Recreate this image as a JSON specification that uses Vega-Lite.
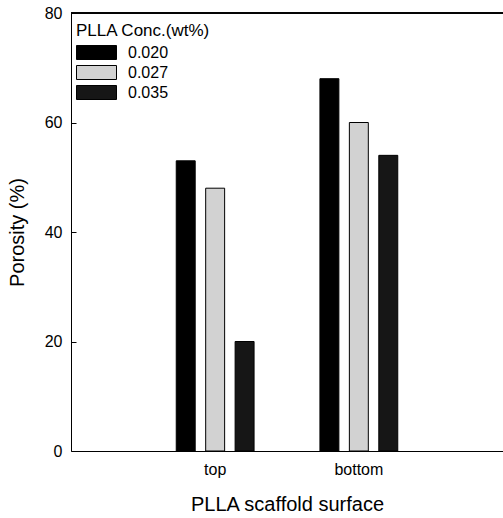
{
  "$schema": "https://vega.github.io/schema/vega-lite/v6.json",
  "width": 432,
  "height": 438,
  "autosize": {"type": "none"},
  "padding": {"left": 71, "top": 13, "right": 0, "bottom": 67},
  "background": "white",
  "config": {"view": {"stroke": null}, "font": "Liberation Sans"},
  "data": {
    "values": [
      {"surface": "top", "conc": "0.020", "porosity": 53},
      {"surface": "top", "conc": "0.027", "porosity": 48},
      {"surface": "top", "conc": "0.035", "porosity": 20},
      {"surface": "bottom", "conc": "0.020", "porosity": 68},
      {"surface": "bottom", "conc": "0.027", "porosity": 60},
      {"surface": "bottom", "conc": "0.035", "porosity": 54}
    ]
  },
  "layer": [
    {
      "mark": {"type": "bar", "stroke": "black", "strokeWidth": 1, "opacity": 1},
      "encoding": {
        "x": {
          "field": "surface",
          "type": "nominal",
          "sort": ["top", "bottom"],
          "scale": {"paddingInner": 0.3854, "paddingOuter": 0.696},
          "title": "PLLA scaffold surface",
          "axis": {
            "ticks": false,
            "domainColor": "black",
            "labelAngle": 0,
            "labelFontSize": 16,
            "labelColor": "black",
            "labelPadding": 10,
            "titleFontSize": 20,
            "titleFontWeight": "normal",
            "titleColor": "black",
            "titlePadding": 17
          }
        },
        "xOffset": {
          "field": "conc",
          "type": "nominal",
          "sort": ["0.020", "0.027", "0.035"],
          "scale": {"paddingInner": 0.356, "paddingOuter": 0.178}
        },
        "y": {
          "field": "porosity",
          "type": "quantitative",
          "scale": {"domain": [0, 80]},
          "title": "Porosity (%)",
          "axis": {
            "values": [0, 20, 40, 60, 80],
            "grid": false,
            "tickSize": -5,
            "tickColor": "black",
            "domainColor": "black",
            "labelFontSize": 16,
            "labelColor": "black",
            "labelPadding": 14,
            "titleFontSize": 20,
            "titleFontWeight": "normal",
            "titleColor": "black",
            "titlePadding": 17
          }
        },
        "color": {
          "field": "conc",
          "type": "nominal",
          "scale": {"domain": ["0.020", "0.027", "0.035"], "range": ["#000000", "#d2d2d2", "#161616"]},
          "legend": {
            "orient": "none",
            "legendX": 5,
            "legendY": 10,
            "padding": 0,
            "title": "PLLA Conc.(wt%)",
            "titleFontSize": 17,
            "titleFontWeight": "normal",
            "titleColor": "black",
            "titlePadding": 2,
            "labelFontSize": 16,
            "labelColor": "black",
            "labelOffset": 31,
            "symbolType": "M-1,-0.7L3,-0.7L3,0.7L-1,0.7Z",
            "symbolSize": 400,
            "symbolStrokeColor": "black",
            "symbolStrokeWidth": 1,
            "symbolOpacity": 1,
            "rowPadding": 0
          }
        }
      }
    },
    {
      "mark": {"type": "rule", "color": "black", "strokeWidth": 1},
      "encoding": {"y": {"datum": 80}}
    }
  ]
}
